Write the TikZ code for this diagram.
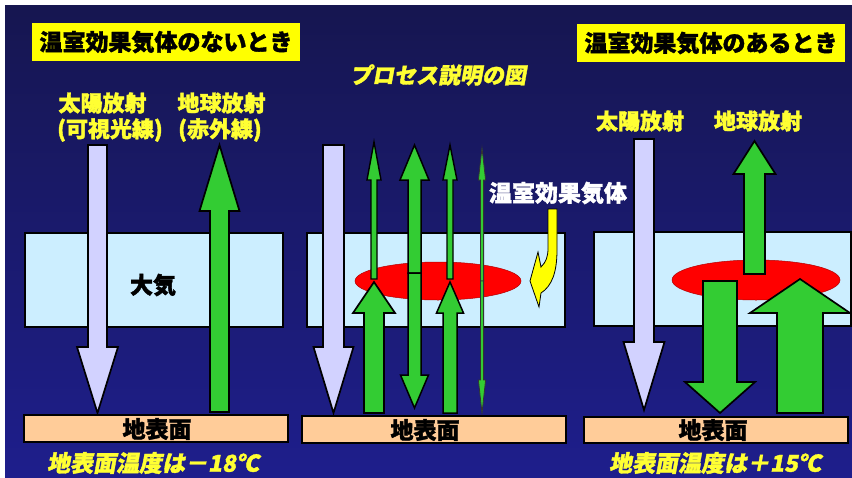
\documentclass[tikz,border=0pt]{standalone}
\usepackage{fontspec}
\setmainfont{Noto Sans CJK JP}[BoldFeatures={FakeBold=1.6}]
\newfontfamily\jpsl{Noto Sans CJK JP}[FakeSlant=0.18,BoldFeatures={FakeBold=1.6,FakeSlant=0.18}]
\usetikzlibrary{shapes.geometric}
\definecolor{navytop}{HTML}{161650}
\definecolor{navymid}{HTML}{2A2ABC}
\definecolor{navybot}{HTML}{1E1E8C}
\definecolor{airblue}{HTML}{CCEEFF}
\definecolor{peach}{HTML}{FFCC99}
\definecolor{lav}{HTML}{D2D2FF}
\definecolor{grn}{HTML}{33CC33}
\definecolor{txty}{HTML}{FFFF33}
\definecolor{boxy}{HTML}{FFFF00}
\definecolor{gasred}{HTML}{FF0000}
\tikzset{
  arrowshape/.style={draw=black,line width=1.7pt,line join=miter},
  thinshape/.style={draw=black!80,line width=0.8pt,line join=miter},
  airbox/.style={draw=black,line width=1.5pt,fill=airblue},
  groundbox/.style={draw=black,line width=1.6pt,fill=peach},
  gas/.style={fill=gasred,draw=red!70!black,line width=0.5pt},
  lbl/.style={fill=boxy,inner sep=0pt,minimum height=38pt,font=\fontsize{23}{23}\selectfont\bfseries,text=black},
  ytxt/.style={text=txty,inner sep=0pt,font=\fontsize{22}{22}\selectfont\bfseries},
  btxt/.style={text=black,inner sep=0pt,font=\fontsize{23}{23}\selectfont\bfseries},
  tmptxt/.style={text=txty,inner sep=0pt,font=\fontsize{23}{23}\selectfont\jpsl\bfseries},
}
% [opt]{xc}{shaft half}{head half}{tail y}{head base y}{tip y}{fill}
\newcommand\vArr[8][]{\draw[arrowshape,fill=#8,#1] (#2-#3,#5) -- (#2-#3,#6) -- (#2-#4,#6) -- (#2,#7) -- (#2+#4,#6) -- (#2+#3,#6) -- (#2+#3,#5) -- cycle;}
\begin{document}
\begin{tikzpicture}[x=1pt,y=-1pt]
\useasboundingbox (0,0) rectangle (852,477);
\fill[white] (0,0) rectangle (852,477);
\shade[top color=navytop,middle color=navymid,bottom color=navybot] (5,5) rectangle (852,477);

% ---------- labels ----------
\node[lbl,minimum width=268pt] (t1) at (166,42) {温室効果気体のないとき};
\node[lbl,minimum width=268pt] (t2) at (711,43) {温室効果気体のあるとき};
\node[ytxt] (s1) at (102.5,103) {太陽放射};
\node[ytxt] (s2) at (110,130) {(可視光線)};
\node[ytxt] (e1) at (221.5,103) {地球放射};
\node[ytxt] (e2) at (220,130) {(赤外線)};
\node[ytxt] (s3) at (640,121) {太陽放射};
\node[ytxt] (e3) at (758,121) {地球放射};
\node[ytxt,font=\fontsize{22}{22}\selectfont\jpsl\bfseries] (title) at (438,75) {プロセス説明の図};
\node[ytxt,text=white,font=\fontsize{23}{23}\selectfont\bfseries] (ghg) at (558,193) {温室効果気体};

% ---------- atmosphere ----------
\draw[airbox] (25,233) rectangle (283,327);
\draw[airbox] (307,233) rectangle (565,327);
\draw[airbox] (594,232) rectangle (851,326);
\node[btxt] (air) at (153,285) {大気};
\draw[gas] (438,281) ellipse [x radius=83, y radius=19];
\draw[gas] (756,280) ellipse [x radius=84, y radius=20];

% yellow curved pointer
\draw[arrowshape,line width=0.8pt,fill=boxy] (548,209) -- (557,209) -- (557,250)
  .. controls (557,272) and (552,286) .. (541,293) -- (539,307) -- (530,281) -- (538,252) -- (541,267)
  .. controls (546,262) and (548,257) .. (548,248) -- cycle;

% ---------- left panel arrows ----------
\vArr{97.5}{9.5}{20.5}{145}{347}{413}{lav}
\vArr{219.5}{9.5}{20}{412}{211}{145}{grn}

% ---------- middle panel arrows ----------
\vArr{333.5}{10.5}{20}{145}{347}{413}{lav}
\vArr[line width=1.4pt]{374}{3}{7}{279}{180}{142}{grn}
\vArr{374}{10}{21}{413}{313}{282}{grn}
\vArr[line width=1.5pt]{414.5}{6.5}{14.5}{273}{180}{145}{grn}
\vArr[line width=1.5pt]{414.5}{6.5}{14}{273}{375}{408}{grn}
\vArr[line width=1.4pt]{450}{3}{7}{279}{180}{145}{grn}
\vArr[line width=1.5pt]{450}{7}{13.5}{413}{313}{282}{grn}
\vArr[thinshape]{482}{1.6}{3.6}{281}{180}{148}{grn}
\vArr[thinshape]{482}{1.6}{3.6}{281}{380}{413}{grn}

% ---------- right panel arrows ----------
\vArr{644}{10}{20.5}{139}{342}{410}{lav}
\vArr{754.5}{10.5}{21}{274}{174}{141}{grn}
\vArr{720}{17}{35}{281}{382}{413}{grn}
\vArr{800}{23}{50}{413}{313}{279}{grn}

% ---------- ground ----------
\draw[groundbox] (24,415) rectangle (288,442);
\draw[groundbox] (302,416) rectangle (566,443);
\draw[groundbox] (584,417) rectangle (848,443);
\node[btxt] (g1) at (157,429) {地表面};
\node[btxt] (g2) at (425,430) {地表面};
\node[btxt] (g3) at (713,430) {地表面};
\node[tmptxt] (T1) at (153,463) {地表面温度は－18℃};
\node[tmptxt] (T2) at (715,463) {地表面温度は＋15℃};
\end{tikzpicture}
\end{document}
